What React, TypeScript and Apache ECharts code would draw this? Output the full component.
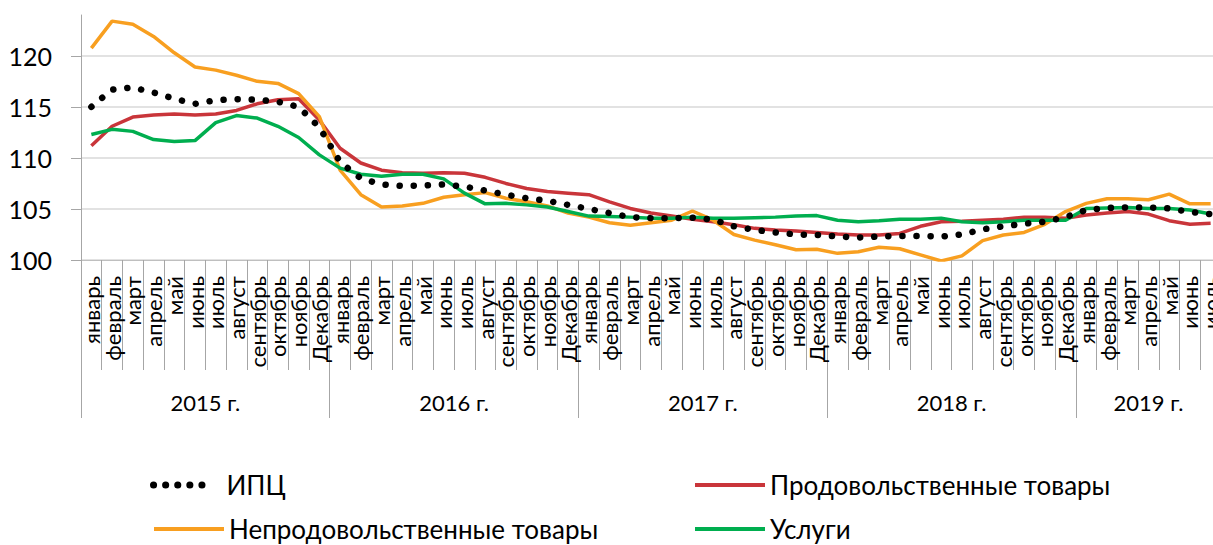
import React, { useEffect, useRef } from "react";
import * as echarts from "echarts";

const monthNames = ["январь", "февраль", "март", "апрель", "май", "июнь", "июль", "август", "сентябрь", "октябрь", "ноябрь", "Декабрь"];
const years = ["2015 г.", "2016 г.", "2017 г.", "2018 г.", "2019 г."];
const monthsPerYear = [12, 12, 12, 12, 7];
const yTicks = [100, 105, 110, 115, 120];

const seriesNames = ["ИПЦ", "Продовольственные товары", "Непродовольственные товары", "Услуги"];

const cpi = [115.0, 116.7, 116.9, 116.4, 115.8, 115.3, 115.65, 115.75, 115.7, 115.5, 115.0, 113.0,
  109.6, 108.0, 107.4, 107.25, 107.3, 107.4, 107.2, 106.8, 106.4, 106.05, 105.8, 105.4,
  105.0, 104.6, 104.2, 104.1, 104.1, 104.15, 103.95, 103.3, 102.95, 102.7, 102.5, 102.45,
  102.3, 102.2, 102.3, 102.35, 102.35, 102.3, 102.5, 103.0, 103.3, 103.55, 103.75, 104.2,
  104.9, 105.1, 105.15, 105.15, 105.05, 104.7, 104.5];

const food = [111.2, 113.1, 114.0, 114.2, 114.3, 114.2, 114.3, 114.65, 115.3, 115.7, 115.8, 113.7,
  110.95, 109.5, 108.8, 108.55, 108.5, 108.55, 108.5, 108.1, 107.5, 107.0, 106.7, 106.55,
  106.4, 105.7, 105.05, 104.6, 104.3, 104.0, 103.75, 103.45, 103.1, 102.95, 102.85, 102.7,
  102.55, 102.45, 102.45, 102.6, 103.3, 103.75, 103.8, 103.9, 104.0, 104.2, 104.2, 104.1,
  104.4, 104.6, 104.75, 104.5, 103.85, 103.5, 103.6];

const nonFood = [120.75, 123.4, 123.1, 121.9, 120.3, 118.9, 118.6, 118.1, 117.5, 117.3, 116.3, 114.05,
  108.8, 106.4, 105.2, 105.3, 105.55, 106.15, 106.4, 106.6, 106.05, 105.7, 105.3, 104.6,
  104.2, 103.65, 103.4, 103.65, 103.9, 104.8, 103.9, 102.5, 101.95, 101.5, 101.0, 101.05,
  100.65, 100.8, 101.25, 101.1, 100.5, 99.9, 100.4, 101.9, 102.45, 102.7, 103.5, 104.75,
  105.55, 106.0, 106.0, 105.9, 106.45, 105.5, 105.5];

const services = [112.3, 112.8, 112.6, 111.8, 111.6, 111.7, 113.45, 114.15, 113.9, 113.1, 112.0, 110.3,
  109.0, 108.4, 108.2, 108.4, 108.4, 107.95, 106.55, 105.5, 105.55, 105.4, 105.2, 104.75,
  104.3, 104.25, 104.2, 104.1, 104.1, 104.2, 104.1, 104.1, 104.15, 104.2, 104.3, 104.35,
  103.9, 103.75, 103.85, 104.0, 104.0, 104.1, 103.75, 103.65, 103.75, 103.9, 103.9, 103.9,
  105.05, 105.1, 105.15, 105.05, 105.05, 104.9, 104.5];

const FONT = "Lato, 'Open Sans', sans-serif";
const COLORS = { cpi: "#000000", food: "#C9353A", nonFood: "#F89F20", services: "#00AE4F" };

export default function App() {
  const ref = useRef<HTMLDivElement>(null);

  useEffect(() => {
    if (!ref.current) return;
    const chart = echarts.init(ref.current, null, { renderer: "svg" });

    const monthCats: string[] = [];
    monthsPerYear.forEach((n) => {
      for (let i = 0; i < n; i++) monthCats.push(monthNames[i]);
    });
    const halfSteps = monthCats.length * 2;
    const yearAxisData: string[] = new Array(halfSteps + 1).fill("");
    const yearStarts: number[] = [];
    let acc = 0;
    years.forEach((y, k) => {
      yearStarts.push(acc * 2);
      yearAxisData[acc * 2 + monthsPerYear[k]] = y;
      acc += monthsPerYear[k];
    });

    const legendText = { fontFamily: FONT, fontSize: 26, color: "#000" };
    const legendBase = {
      orient: "horizontal",
      padding: 0,
      itemHeight: 14,
      itemWidth: 70,
      textStyle: legendText,
      itemStyle: { opacity: 0, borderWidth: 0 },
      lineStyle: { width: 4 },
      selectedMode: false,
    };

    chart.setOption({
      animation: false,
      grid: { left: 81, right: -8, top: 15, bottom: 285, containLabel: false, outerBoundsMode: "none" },
      legend: [
        {
          ...legendBase, data: [seriesNames[0]], left: 150, top: 472, itemWidth: 60,
          lineStyle: { width: 7, type: [0.1, 12], cap: "round", color: "#000" },
          textStyle: { ...legendText, padding: [0, 0, 0, 8] },
        },
        { ...legendBase, data: [seriesNames[1]], left: 693, top: 472 },
        { ...legendBase, data: [seriesNames[2]], left: 152, top: 516 },
        { ...legendBase, data: [seriesNames[3]], left: 693, top: 516 },
      ],
      xAxis: [
        {
          type: "category",
          data: monthCats,
          boundaryGap: true,
          axisLine: { show: true, lineStyle: { color: "#BFBFBF", width: 1 } },
          axisTick: { show: true, interval: 0, length: 110, lineStyle: { color: "#A6A6A6" } },
          axisLabel: { interval: 0, rotate: 90, margin: 16, fontFamily: FONT, fontSize: 22, color: "#000" },
          splitLine: { show: false },
        },
        {
          type: "category",
          data: yearAxisData,
          boundaryGap: false,
          position: "bottom",
          axisLine: { show: false },
          axisTick: { show: true, length: 158, interval: (i: number) => yearStarts.includes(i), lineStyle: { color: "#A6A6A6" } },
          axisLabel: { interval: (_i: number, v: string) => v !== "", margin: 131, fontFamily: FONT, fontSize: 22, color: "#000" },
          splitLine: { show: false },
        },
      ],
      yAxis: {
        type: "value",
        min: 100,
        max: 124,
        interval: 5,
        axisLine: { show: true, lineStyle: { color: "#A6A6A6" } },
        axisTick: { show: true, length: 10, customValues: yTicks, lineStyle: { color: "#A6A6A6" } },
        axisLabel: { customValues: yTicks, margin: 29, fontFamily: FONT, fontSize: 25, color: "#000" },
        splitLine: { show: true, lineStyle: { color: "#D9D9D9", width: 1.5 } },
      },
      series: [
        {
          name: seriesNames[1], type: "line", data: food, symbol: "none", z: 2,
          lineStyle: { color: COLORS.food, width: 3.5 }, itemStyle: { color: COLORS.food },
        },
        {
          name: seriesNames[2], type: "line", data: nonFood, symbol: "none", z: 2,
          lineStyle: { color: COLORS.nonFood, width: 3.5 }, itemStyle: { color: COLORS.nonFood },
        },
        {
          name: seriesNames[3], type: "line", data: services, symbol: "none", z: 2,
          lineStyle: { color: COLORS.services, width: 3.5 }, itemStyle: { color: COLORS.services },
        },
        {
          name: seriesNames[0], type: "line", data: cpi, symbol: "none", z: 3,
          lineStyle: { color: COLORS.cpi, width: 6.5, type: [0.1, 14], cap: "round" }, itemStyle: { color: COLORS.cpi },
        },
      ],
    });

    return () => chart.dispose();
  }, []);

  return <div ref={ref} style={{ position: "absolute", left: 0, top: 0, width: 1213, height: 545 }} />;
}
